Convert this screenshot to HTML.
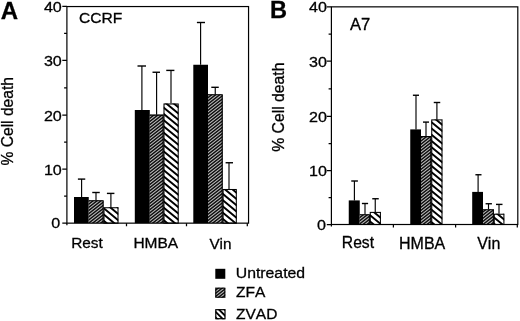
<!DOCTYPE html>
<html><head><meta charset="utf-8"><title>Cell death</title>
<style>
html,body{margin:0;padding:0;background:#fff;}
body{width:520px;height:321px;overflow:hidden;font-family:"Liberation Sans",sans-serif;}
svg{display:block;font-family:"Liberation Sans",sans-serif;font-kerning:none;}
text{fill:#000;stroke:#000;stroke-width:0.3px;font-kerning:none;}
</style></head><body>
<svg width="520" height="321" viewBox="0 0 520 321">
<defs>
<linearGradient id="gzfa" gradientUnits="userSpaceOnUse" x1="0" y1="0" x2="1.5311" y2="1.9443" spreadMethod="repeat">
<stop offset="0.0000" stop-color="#0e0e0e"/><stop offset="0.0625" stop-color="#101010"/><stop offset="0.1250" stop-color="#191919"/><stop offset="0.1875" stop-color="#2e2e2e"/><stop offset="0.2500" stop-color="#4d4d4d"/><stop offset="0.3125" stop-color="#707070"/><stop offset="0.3750" stop-color="#929292"/><stop offset="0.4375" stop-color="#aaaaaa"/><stop offset="0.5000" stop-color="#b3b3b3"/><stop offset="0.5625" stop-color="#aaaaaa"/><stop offset="0.6250" stop-color="#929292"/><stop offset="0.6875" stop-color="#707070"/><stop offset="0.7500" stop-color="#4d4d4d"/><stop offset="0.8125" stop-color="#2e2e2e"/><stop offset="0.8750" stop-color="#191919"/><stop offset="0.9375" stop-color="#101010"/><stop offset="1.0000" stop-color="#0e0e0e"/>
</linearGradient>
</defs>
<rect width="520" height="321" fill="#fff"/>



<g style="filter:blur(0.2px)"><rect x="74" y="197" width="14.75" height="26.15" fill="#000"/>
<rect x="88.75" y="200.4" width="14.75" height="22.75" fill="url(#gzfa)"/>
<clipPath id="c1"><rect x="103.5" y="207.25" width="15" height="15.9"/></clipPath><g clip-path="url(#c1)"><rect x="103.5" y="207.25" width="15" height="15.9" fill="#fff"/><path d="M103.5,188.06 L118.5,200.42 L118.5,202.92 L103.5,190.56Z M103.5,194.31 L118.5,206.67 L118.5,209.17 L103.5,196.81Z M103.5,200.56 L118.5,212.92 L118.5,215.42 L103.5,203.06Z M103.5,206.81 L118.5,219.17 L118.5,221.67 L103.5,209.31Z M103.5,213.06 L118.5,225.42 L118.5,227.92 L103.5,215.56Z M103.5,219.31 L118.5,231.67 L118.5,234.17 L103.5,221.81Z M103.5,225.56 L118.5,237.92 L118.5,240.42 L103.5,228.06Z" fill="#000"/></g>
<rect x="134.8" y="110" width="15" height="113.15" fill="#000"/>
<rect x="149.8" y="114.75" width="13.7" height="108.4" fill="url(#gzfa)"/>
<clipPath id="c2"><rect x="163.5" y="103.5" width="15.2" height="119.65"/></clipPath><g clip-path="url(#c2)"><rect x="163.5" y="103.5" width="15.2" height="119.65" fill="#fff"/><path d="M163.5,81.25 L178.7,93.78 L178.7,96.28 L163.5,83.75Z M163.5,87.5 L178.7,100.03 L178.7,102.53 L163.5,90Z M163.5,93.75 L178.7,106.28 L178.7,108.78 L163.5,96.25Z M163.5,100 L178.7,112.53 L178.7,115.03 L163.5,102.5Z M163.5,106.25 L178.7,118.78 L178.7,121.28 L163.5,108.75Z M163.5,112.5 L178.7,125.03 L178.7,127.53 L163.5,115Z M163.5,118.75 L178.7,131.28 L178.7,133.78 L163.5,121.25Z M163.5,125 L178.7,137.53 L178.7,140.03 L163.5,127.5Z M163.5,131.25 L178.7,143.78 L178.7,146.28 L163.5,133.75Z M163.5,137.5 L178.7,150.03 L178.7,152.53 L163.5,140Z M163.5,143.75 L178.7,156.28 L178.7,158.78 L163.5,146.25Z M163.5,150 L178.7,162.53 L178.7,165.03 L163.5,152.5Z M163.5,156.25 L178.7,168.78 L178.7,171.28 L163.5,158.75Z M163.5,162.5 L178.7,175.03 L178.7,177.53 L163.5,165Z M163.5,168.75 L178.7,181.28 L178.7,183.78 L163.5,171.25Z M163.5,175 L178.7,187.53 L178.7,190.03 L163.5,177.5Z M163.5,181.25 L178.7,193.78 L178.7,196.28 L163.5,183.75Z M163.5,187.5 L178.7,200.03 L178.7,202.53 L163.5,190Z M163.5,193.75 L178.7,206.28 L178.7,208.78 L163.5,196.25Z M163.5,200 L178.7,212.53 L178.7,215.03 L163.5,202.5Z M163.5,206.25 L178.7,218.78 L178.7,221.28 L163.5,208.75Z M163.5,212.5 L178.7,225.03 L178.7,227.53 L163.5,215Z M163.5,218.75 L178.7,231.28 L178.7,233.78 L163.5,221.25Z M163.5,225 L178.7,237.53 L178.7,240.03 L163.5,227.5Z" fill="#000"/></g>
<rect x="193.3" y="64.75" width="14.7" height="158.4" fill="#000"/>
<rect x="208" y="94.4" width="14.6" height="128.75" fill="url(#gzfa)"/>
<clipPath id="c3"><rect x="222.6" y="189" width="14.2" height="34.15"/></clipPath><g clip-path="url(#c3)"><rect x="222.6" y="189" width="14.2" height="34.15" fill="#fff"/><path d="M222.6,167.45 L236.8,179.15 L236.8,181.65 L222.6,169.95Z M222.6,173.7 L236.8,185.4 L236.8,187.9 L222.6,176.2Z M222.6,179.95 L236.8,191.65 L236.8,194.15 L222.6,182.45Z M222.6,186.2 L236.8,197.9 L236.8,200.4 L222.6,188.7Z M222.6,192.45 L236.8,204.15 L236.8,206.65 L222.6,194.95Z M222.6,198.7 L236.8,210.4 L236.8,212.9 L222.6,201.2Z M222.6,204.95 L236.8,216.65 L236.8,219.15 L222.6,207.45Z M222.6,211.2 L236.8,222.9 L236.8,225.4 L222.6,213.7Z M222.6,217.45 L236.8,229.15 L236.8,231.65 L222.6,219.95Z M222.6,223.7 L236.8,235.4 L236.8,237.9 L222.6,226.2Z" fill="#000"/></g>
<rect x="348.75" y="200.4" width="11" height="24.1" fill="#000"/>
<rect x="359.75" y="214.4" width="10" height="10.1" fill="url(#gzfa)"/>
<clipPath id="c4"><rect x="369.75" y="211.9" width="11.15" height="12.6"/></clipPath><g clip-path="url(#c4)"><rect x="369.75" y="211.9" width="11.15" height="12.6" fill="#fff"/><path d="M369.75,194.95 L380.9,204.14 L380.9,206.64 L369.75,197.45Z M369.75,201.2 L380.9,210.39 L380.9,212.89 L369.75,203.7Z M369.75,207.45 L380.9,216.64 L380.9,219.14 L369.75,209.95Z M369.75,213.7 L380.9,222.89 L380.9,225.39 L369.75,216.2Z M369.75,219.95 L380.9,229.14 L380.9,231.64 L369.75,222.45Z M369.75,226.2 L380.9,235.39 L380.9,237.89 L369.75,228.7Z" fill="#000"/></g>
<rect x="410.25" y="129.4" width="10.75" height="95.1" fill="#000"/>
<rect x="421" y="136.25" width="10.25" height="88.25" fill="url(#gzfa)"/>
<clipPath id="c5"><rect x="431.25" y="119.4" width="11.25" height="105.1"/></clipPath><g clip-path="url(#c5)"><rect x="431.25" y="119.4" width="11.25" height="105.1" fill="#fff"/><path d="M431.25,101.88 L442.5,111.15 L442.5,113.65 L431.25,104.38Z M431.25,108.13 L442.5,117.4 L442.5,119.9 L431.25,110.63Z M431.25,114.38 L442.5,123.65 L442.5,126.15 L431.25,116.88Z M431.25,120.63 L442.5,129.9 L442.5,132.4 L431.25,123.13Z M431.25,126.88 L442.5,136.15 L442.5,138.65 L431.25,129.38Z M431.25,133.13 L442.5,142.4 L442.5,144.9 L431.25,135.63Z M431.25,139.38 L442.5,148.65 L442.5,151.15 L431.25,141.88Z M431.25,145.63 L442.5,154.9 L442.5,157.4 L431.25,148.13Z M431.25,151.88 L442.5,161.15 L442.5,163.65 L431.25,154.38Z M431.25,158.13 L442.5,167.4 L442.5,169.9 L431.25,160.63Z M431.25,164.38 L442.5,173.65 L442.5,176.15 L431.25,166.88Z M431.25,170.63 L442.5,179.9 L442.5,182.4 L431.25,173.13Z M431.25,176.88 L442.5,186.15 L442.5,188.65 L431.25,179.38Z M431.25,183.13 L442.5,192.4 L442.5,194.9 L431.25,185.63Z M431.25,189.38 L442.5,198.65 L442.5,201.15 L431.25,191.88Z M431.25,195.63 L442.5,204.9 L442.5,207.4 L431.25,198.13Z M431.25,201.88 L442.5,211.15 L442.5,213.65 L431.25,204.38Z M431.25,208.13 L442.5,217.4 L442.5,219.9 L431.25,210.63Z M431.25,214.38 L442.5,223.65 L442.5,226.15 L431.25,216.88Z M431.25,220.63 L442.5,229.9 L442.5,232.4 L431.25,223.13Z M431.25,226.88 L442.5,236.15 L442.5,238.65 L431.25,229.38Z" fill="#000"/></g>
<rect x="472.2" y="191.9" width="10.8" height="32.6" fill="#000"/>
<rect x="483" y="209.4" width="10.75" height="15.1" fill="url(#gzfa)"/>
<clipPath id="c6"><rect x="493.75" y="213.75" width="10.65" height="10.75"/></clipPath><g clip-path="url(#c6)"><rect x="493.75" y="213.75" width="10.65" height="10.75" fill="#fff"/><path d="M493.75,197.13 L504.4,205.91 L504.4,208.41 L493.75,199.63Z M493.75,203.38 L504.4,212.16 L504.4,214.66 L493.75,205.88Z M493.75,209.63 L504.4,218.41 L504.4,220.91 L493.75,212.13Z M493.75,215.88 L504.4,224.66 L504.4,227.16 L493.75,218.38Z M493.75,222.13 L504.4,230.91 L504.4,233.41 L493.75,224.63Z M493.75,228.38 L504.4,237.16 L504.4,239.66 L493.75,230.88Z" fill="#000"/></g>
<rect x="215.3" y="268.8" width="10" height="10" fill="#000"/>
<rect x="215.3" y="287.7" width="10" height="10" fill="url(#gzfa)"/>
<clipPath id="c7"><rect x="215.3" y="309.2" width="10" height="10"/></clipPath><g clip-path="url(#c7)"><rect x="215.3" y="309.2" width="10" height="10" fill="#fff"/><path d="M215.3,299 L225.3,309 L225.3,311.6 L215.3,301.6Z M215.3,304.6 L225.3,314.6 L225.3,317.2 L215.3,307.2Z M215.3,310.2 L225.3,320.2 L225.3,322.8 L215.3,312.8Z M215.3,315.8 L225.3,325.8 L225.3,328.4 L215.3,318.4Z M215.3,321.4 L225.3,331.4 L225.3,334 L215.3,324Z" fill="#000"/></g></g>
<g style="filter:blur(0.15px)"><path d="M88.75,200.8 H103.1 V223.15" fill="none" stroke="#000" stroke-width="1.1"/>
<rect x="104" y="207.75" width="14" height="15.4" fill="none" stroke="#000" stroke-width="1.05"/>
<path d="M149.8,115.15 H163.1 V223.15" fill="none" stroke="#000" stroke-width="1.1"/>
<rect x="164" y="104" width="14.2" height="119.15" fill="none" stroke="#000" stroke-width="1.05"/>
<path d="M208,94.8 H222.2 V223.15" fill="none" stroke="#000" stroke-width="1.1"/>
<rect x="223.1" y="189.5" width="13.2" height="33.65" fill="none" stroke="#000" stroke-width="1.05"/>
<path d="M81.6,197 V179.1" fill="none" stroke="#000" stroke-width="1.15"/><path d="M77.9,179.1 H85.25" fill="none" stroke="#000" stroke-width="1.4"/>
<path d="M96,200.4 V192.5" fill="none" stroke="#000" stroke-width="1.15"/><path d="M92.25,192.5 H99.75" fill="none" stroke="#000" stroke-width="1.4"/>
<path d="M110.9,207.25 V193.4" fill="none" stroke="#000" stroke-width="1.15"/><path d="M106.9,193.4 H114.4" fill="none" stroke="#000" stroke-width="1.4"/>
<path d="M141.9,110 V66" fill="none" stroke="#000" stroke-width="1.15"/><path d="M137.5,66 H146" fill="none" stroke="#000" stroke-width="1.4"/>
<path d="M156.6,114.75 V72.25" fill="none" stroke="#000" stroke-width="1.15"/><path d="M152.5,72.25 H160" fill="none" stroke="#000" stroke-width="1.4"/>
<path d="M171,103.5 V70.4" fill="none" stroke="#000" stroke-width="1.15"/><path d="M166.25,70.4 H174.4" fill="none" stroke="#000" stroke-width="1.4"/>
<path d="M200.6,64.75 V22.5" fill="none" stroke="#000" stroke-width="1.15"/><path d="M196.9,22.5 H205" fill="none" stroke="#000" stroke-width="1.4"/>
<path d="M215.25,94.4 V87.3" fill="none" stroke="#000" stroke-width="1.15"/><path d="M211.3,87.3 H218.75" fill="none" stroke="#000" stroke-width="1.4"/>
<path d="M229,189 V162.75" fill="none" stroke="#000" stroke-width="1.15"/><path d="M225.6,162.75 H233" fill="none" stroke="#000" stroke-width="1.4"/>
<rect x="66.9" y="6.55" width="181.65" height="216.6" fill="none" stroke="#000" stroke-width="1.2"/>
<path d="M62.3,223 H66.9 M64.1,196.1 H66.9 M62.3,169.2 H66.9 M64.1,142.2 H66.9 M62.3,115.2 H66.9 M64.1,87.8 H66.9 M62.3,60.4 H66.9 M64.1,33.35 H66.9 M62.3,6.3 H66.9 M126.5,223.15 V226.25 M186.5,223.15 V226.25 M247.3,223.15 V226.25 M66.9,223.15 V225.25" fill="none" stroke="#000" stroke-width="1.25"/>
<path d="M359.75,214.8 H369.35 V224.5" fill="none" stroke="#000" stroke-width="1.1"/>
<rect x="370.25" y="212.4" width="10.15" height="12.1" fill="none" stroke="#000" stroke-width="1.05"/>
<path d="M421,136.65 H430.85 V224.5" fill="none" stroke="#000" stroke-width="1.1"/>
<rect x="431.75" y="119.9" width="10.25" height="104.6" fill="none" stroke="#000" stroke-width="1.05"/>
<path d="M483,209.8 H493.35 V224.5" fill="none" stroke="#000" stroke-width="1.1"/>
<rect x="494.25" y="214.25" width="9.65" height="10.25" fill="none" stroke="#000" stroke-width="1.05"/>
<path d="M354.4,200.4 V181" fill="none" stroke="#000" stroke-width="1.15"/><path d="M351.25,181 H357.9" fill="none" stroke="#000" stroke-width="1.4"/>
<path d="M365,214.4 V203.5" fill="none" stroke="#000" stroke-width="1.15"/><path d="M361.9,203.5 H368.1" fill="none" stroke="#000" stroke-width="1.4"/>
<path d="M375.25,211.9 V198.75" fill="none" stroke="#000" stroke-width="1.15"/><path d="M372.25,198.75 H378.75" fill="none" stroke="#000" stroke-width="1.4"/>
<path d="M416,129.4 V95.25" fill="none" stroke="#000" stroke-width="1.15"/><path d="M412.9,95.25 H419" fill="none" stroke="#000" stroke-width="1.4"/>
<path d="M426,136.25 V122.1" fill="none" stroke="#000" stroke-width="1.15"/><path d="M423,122.1 H429" fill="none" stroke="#000" stroke-width="1.4"/>
<path d="M436.9,119.4 V102.5" fill="none" stroke="#000" stroke-width="1.15"/><path d="M433.75,102.5 H440.25" fill="none" stroke="#000" stroke-width="1.4"/>
<path d="M478.1,191.9 V174.75" fill="none" stroke="#000" stroke-width="1.15"/><path d="M475.4,174.75 H481.5" fill="none" stroke="#000" stroke-width="1.4"/>
<path d="M488.5,209.4 V203.75" fill="none" stroke="#000" stroke-width="1.15"/><path d="M485.6,203.75 H491.9" fill="none" stroke="#000" stroke-width="1.4"/>
<path d="M499,213.75 V204.4" fill="none" stroke="#000" stroke-width="1.15"/><path d="M496,204.4 H502.5" fill="none" stroke="#000" stroke-width="1.4"/>
<rect x="331.4" y="6.85" width="186.4" height="217.65" fill="none" stroke="#000" stroke-width="1.2"/>
<path d="M326.8,224.5 H331.4 M328.6,197.55 H331.4 M326.8,170.6 H331.4 M328.6,143.5 H331.4 M326.8,116.4 H331.4 M328.6,88.75 H331.4 M326.8,61.1 H331.4 M328.6,34 H331.4 M326.8,6.9 H331.4 M393.4,224.5 V227.6 M455.6,224.5 V227.6 M517.3,224.5 V227.6 M331.4,224.5 V226.6" fill="none" stroke="#000" stroke-width="1.25"/>
<text x="0.8" y="18.5" font-size="24" font-weight="bold">A</text>
<text transform="translate(270.1,18.2) scale(1.025,1)" font-size="23" font-weight="bold">B</text>
<text transform="translate(61.8,11.8) scale(1.06,1)" font-size="15.2" text-anchor="end">40</text>
<text transform="translate(61.8,65.9) scale(1.06,1)" font-size="15.2" text-anchor="end">30</text>
<text transform="translate(61.8,120.7) scale(1.06,1)" font-size="15.2" text-anchor="end">20</text>
<text transform="translate(61.8,174.7) scale(1.06,1)" font-size="15.2" text-anchor="end">10</text>
<text transform="translate(60.2,228.45) scale(1.06,1)" font-size="15.2" text-anchor="end">0</text>
<text transform="translate(326.9,12.3) scale(1.06,1)" font-size="15.2" text-anchor="end">40</text>
<text transform="translate(326.9,66.5) scale(1.06,1)" font-size="15.2" text-anchor="end">30</text>
<text transform="translate(326.9,121.8) scale(1.06,1)" font-size="15.2" text-anchor="end">20</text>
<text transform="translate(326.9,176) scale(1.06,1)" font-size="15.2" text-anchor="end">10</text>
<text transform="translate(325.9,230.2) scale(1.06,1)" font-size="15.2" text-anchor="end">0</text>
<text transform="translate(78.9,23.45) scale(1.02,1)" font-size="15.3">CCRF</text>
<text x="349.9" y="29.6" font-size="16.6">A7</text>
<text x="71.2" y="247.8" font-size="15.4">Rest</text>
<text x="133.4" y="247.8" font-size="15.5">HMBA</text>
<text x="209.4" y="248.5" font-size="15.3">Vin</text>
<text x="341.8" y="248.1" font-size="15.7">Rest</text>
<text x="399" y="248.5" font-size="16">HMBA</text>
<text x="477.2" y="249.3" font-size="16">Vin</text>
<text transform="translate(13.4,165.5) rotate(-90)" font-size="15.6">% Cell death</text>
<text transform="translate(283.8,151.8) rotate(-90)" font-size="15.75">% Cell death</text>
<rect x="215.8" y="288.2" width="9" height="9" fill="none" stroke="#000" stroke-width="1"/>
<rect x="215.8" y="309.7" width="9.2" height="9" fill="none" stroke="#000" stroke-width="1.2"/>
<text transform="translate(235.75,277.5) scale(1.02,1)" font-size="15.5" text-anchor="start">Untreated</text>
<text x="236" y="297.3" font-size="15.5">ZFA</text>
<text x="236" y="318.5" font-size="15.5">ZVAD</text></g>
</svg>
</body></html>
